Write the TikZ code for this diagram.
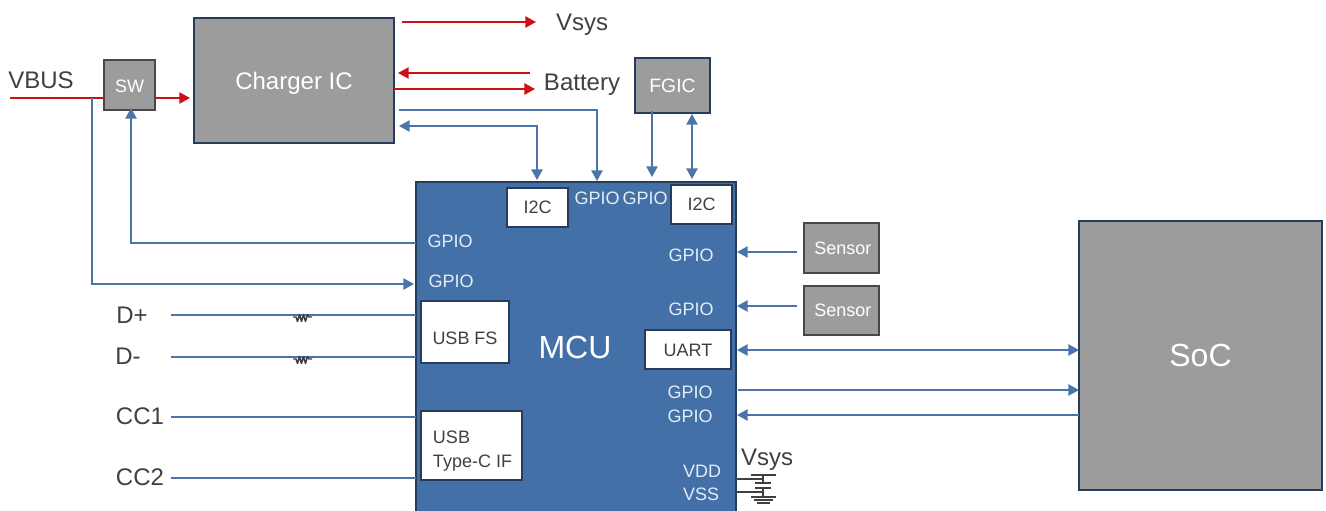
\documentclass[tikz,border=0pt]{standalone}
\usepackage{fontspec}
\setmainfont{Liberation Sans}
\usetikzlibrary{arrows.meta,calc}
\definecolor{gfill}{HTML}{9C9C9C}
\definecolor{mcufill}{HTML}{4470A8}
\definecolor{edge}{HTML}{263C5C}
\definecolor{gedge}{HTML}{484848}
\definecolor{bl}{HTML}{4A74AA}
\definecolor{rd}{HTML}{CC1014}
\definecolor{ink}{HTML}{404040}
\definecolor{lbl}{HTML}{E4ECF6}
\newcommand{\fs}[1]{\fontsize{#1}{#1}\selectfont}
\newcommand{\dn}[2]{\raisebox{-#1}[\height][\depth]{#2}}
\newcommand{\mkbox}[7][]{\node[#2,#1,minimum width={(#5-#3)*0.75pt},minimum height={(#6-#4)*0.75pt}] (#7) at ({(#3+#5)/2},{(#4+#6)/2})}
\tikzset{
  x=0.75pt,y=-0.75pt,
  basebox/.style={draw=edge,line width=1.1pt,inner sep=0pt,outer sep=0pt},
  graybox/.style={basebox,fill=gfill,text=white},
  greybox/.style={graybox,draw=gedge},
  whitebox/.style={basebox,fill=white,text=ink,font=\fs{13.5}},
  mcubox/.style={basebox,fill=mcufill,text=white},
  wlabel/.style={text=lbl,font=\fs{13.5},inner sep=0pt},
  dlabel/.style={text=ink,inner sep=0pt},
  bline/.style={draw=bl,line width=1.1pt},
  rline/.style={draw=rd,line width=1.1pt},
  tipb/.style={-{Triangle[length=8pt,width=8.5pt]}},
  tipbb/.style={{Triangle[length=8pt,width=8.5pt]}-{Triangle[length=8pt,width=8.5pt]}},
  passive/.style={draw=ink,line width=0.9pt},
}
\begin{document}
\begin{tikzpicture}
\useasboundingbox (0,0) rectangle (1326,510);
% boxes
\mkbox{mcubox}{416}{182}{736}{516}{mcu} {};
\mkbox[font=\fs{13.5}]{greybox}{104}{60}{155}{110}{sw} {\dn{0.7pt}{SW}};
\mkbox[font=\fs{18}]{graybox}{194}{18}{394}{143}{chg} {\dn{2.2pt}{Charger IC}};
\mkbox[font=\fs{14.5}]{graybox}{635}{58}{710}{113}{fgic} {FGIC};
\mkbox[font=\fs{13.5}]{greybox}{804}{223}{879}{273}{sa} {\hspace{2pt}Sensor};
\mkbox[font=\fs{13.5}]{greybox}{804}{286}{879}{335}{sb} {\hspace{2pt}Sensor};
\mkbox[font=\fs{24}]{graybox}{1079}{221}{1322}{490}{soc} {SoC};
\mkbox{whitebox}{507}{188}{568}{227}{iia} {I2C};
\mkbox{whitebox}{671}{185}{732}{224}{iib} {I2C};
\mkbox{whitebox}{421}{301}{509}{363}{fs} {\dn{4.5pt}{USB FS}};
\mkbox{whitebox}{421}{411}{522}{480}{tc} {\hspace{1.5pt}\dn{4.5pt}{\begin{tabular}{@{}l@{}}USB\\[4.5pt]Type-C IF\end{tabular}}};
\mkbox{whitebox}{645}{330}{731}{369}{uart} {\dn{0.7pt}{UART}};
% labels
\node[text=white,font=\fs{24},inner sep=0pt] (mcut) at (575,347) {MCU};
\node[wlabel] (ga) at (450,241) {GPIO};
\node[wlabel] (gb) at (451,281) {GPIO};
\node[wlabel] (gc) at (597,198) {GPIO};
\node[wlabel] (gd) at (645,198) {GPIO};
\node[wlabel] (ge) at (691,255) {GPIO};
\node[wlabel] (gf) at (691,309) {GPIO};
\node[wlabel] (gg) at (690,392) {GPIO};
\node[wlabel] (gh) at (690,416) {GPIO};
\node[wlabel] (vdd) at (702,471) {VDD};
\node[wlabel] (vss) at (701,494) {VSS};
\node[dlabel,font=\fs{18}] (vbus) at (41,80) {VBUS};
\node[dlabel,font=\fs{18}] (vsa) at (582,25) {Vsys};
\node[dlabel,font=\fs{18}] (bat) at (582,85) {Battery};
\node[dlabel,font=\fs{18}] (dp) at (132,315) {D+};
\node[dlabel,font=\fs{18}] (dm) at (128,356) {D-};
\node[dlabel,font=\fs{18}] (cca) at (140,416) {CC1};
\node[dlabel,font=\fs{18}] (ccb) at (140,477) {CC2};
\node[dlabel,font=\fs{18}] (vsb) at (767,460) {Vsys};
% free ends
\coordinate (vbusin) at (10,98);
\coordinate (swl) at (104,98);
\coordinate (swr) at (155,98);
\coordinate (chgin) at (190,98);
\coordinate (tap) at (92,98);
\coordinate (tapb) at (92,284);
\coordinate (mcugb) at (414,284);
\coordinate (mcuga) at (416,243);
\coordinate (swb) at (131,243);
\coordinate (swbt) at (131,108);
% red
\draw[rline] (vbusin) -- (swl);
\draw[rline,tipb] (swr) -- (chgin);
\coordinate (vsysa) at (402,22); \coordinate (vsysb) at (536,22);
\draw[rline,tipb] (vsysa) -- (vsysb);
\coordinate (bata) at (530,73); \coordinate (batb) at (398,73);
\draw[rline,tipb] (bata) -- (batb);
\coordinate (batc) at (394,89); \coordinate (batd) at (535,89);
\draw[rline,tipb] (batc) -- (batd);
% blue
\draw[bline,tipb] (tap) -- (tapb) -- (mcugb);
\draw[bline,tipb] (mcuga) -- (swb) -- (swbt);
\coordinate (ca) at (399,110); \coordinate (cb) at (597,110); \coordinate (cc) at (597,181);
\draw[bline,tipb] (ca) -- (cb) -- (cc);
\coordinate (cd) at (399,126); \coordinate (ce) at (537,126); \coordinate (cf) at (537,180);
\draw[bline,tipbb] (cd) -- (ce) -- (cf);
\coordinate (fa) at (652,111); \coordinate (fb) at (652,177);
\draw[bline,tipb] (fa) -- (fb);
\coordinate (fc) at (692,114); \coordinate (fd) at (692,179);
\draw[bline,tipbb] (fc) -- (fd);
\coordinate (sal) at (797,252); \coordinate (sat) at (737,252);
\draw[bline,tipb] (sal) -- (sat);
\coordinate (sbl) at (797,306); \coordinate (sbt) at (737,306);
\draw[bline,tipb] (sbl) -- (sbt);
\coordinate (ua) at (737,350); \coordinate (ub) at (1079,350);
\draw[bline,tipbb] (ua) -- (ub);
\coordinate (ga1) at (738,390); \coordinate (ga2) at (1079,390);
\draw[bline,tipb] (ga1) -- (ga2);
\coordinate (gb1) at (1079,415); \coordinate (gb2) at (737,415);
\draw[bline,tipb] (gb1) -- (gb2);
% left signal lines
\coordinate (dpa) at (171,315); \coordinate (dpb) at (416,315);
\coordinate (dma) at (171,357); \coordinate (dmb) at (416,357);
\coordinate (cca1) at (171,417); \coordinate (cca2) at (416,417);
\coordinate (ccb1) at (171,478); \coordinate (ccb2) at (416,478);
\draw[bline] (dpa) -- (dpb);
\draw[bline] (dma) -- (dmb);
\draw[bline] (cca1) -- (cca2);
\draw[bline] (ccb1) -- (ccb2);
% resistors
\foreach \ry in {315,357}{
 \draw[passive,line width=1.1pt,line join=round] (293,\ry+2) -- (296,\ry+2) -- (297.5,\ry+6.5) -- (299.5,\ry-0.5) -- (301.5,\ry+6.5) -- (303.5,\ry-0.5) -- (305.5,\ry+6.5) -- (307.5,\ry-0.5) -- (309,\ry+2) -- (312,\ry+2);
}
% capacitor and ground
\coordinate (pa) at (736,479); \coordinate (pb) at (763,479);
\coordinate (pc) at (736,492); \coordinate (pd) at (763,492);
\draw[passive] (pa) -- (pb);
\draw[passive] (pc) -- (pd);
\draw[passive] (751,475) -- (776,475);
\draw[passive] (763,475) -- (763,483);
\draw[passive] (755,483) -- (771,483);
\draw[passive] (755,488) -- (771,488);
\draw[passive] (763,488) -- (763,497);
\draw[passive] (751,497) -- (776,497);
\draw[passive] (754,500) -- (773,500);
\draw[passive] (757,503) -- (770,503);
\end{tikzpicture}
\end{document}
